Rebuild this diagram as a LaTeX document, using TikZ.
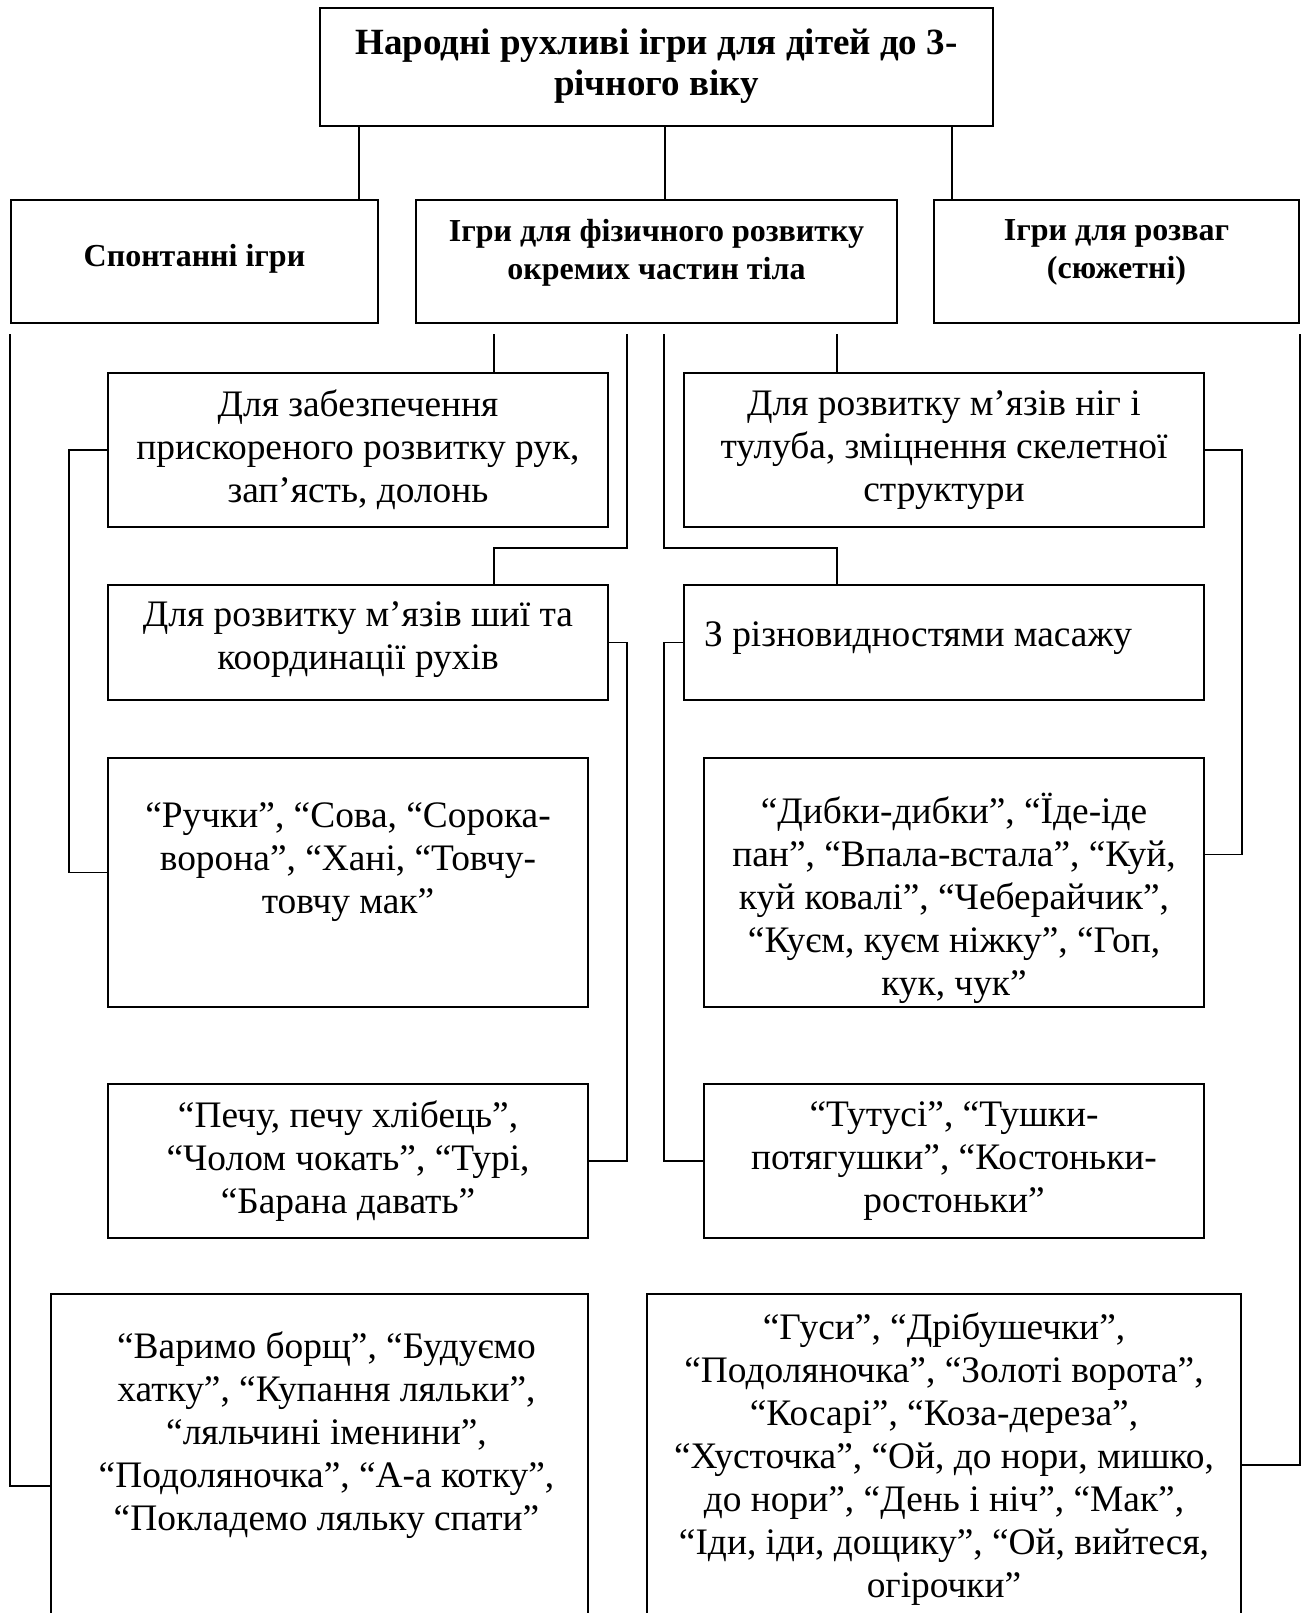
\documentclass[tikz,border=0pt]{standalone}
\usepackage{fontspec}
\setmainfont{Liberation Serif}
\tikzset{
  box/.style={
    draw,
    rectangle,
    line width=2pt,
    anchor=north west,
    inner sep=0pt
  },
  link/.style={line width=1.5pt}
}

\begin{document}
\begin{tikzpicture}[
    x=1pt, y=-1pt,
    ttl/.style={
      align=center,
      inner sep=0pt,
      font=\bfseries\fontsize{37}{41}\selectfont
    },
    head/.style={
      align=center,
      inner sep=0pt,
      font=\bfseries\fontsize{32}{38}\selectfont
    },
    txt/.style={
      align=center,
      inner sep=0pt,
      font=\fontsize{37.4}{43}\selectfont
    }
  ]
  \useasboundingbox (0,0) rectangle (1306,1613);
  % top level
  \node[box,minimum width=673pt,minimum height=118pt] (title) at (319,7) {};
  \node[ttl] (titleTxt) at ([yshift=0.5pt]title.center) {Народні рухливі ігри для дітей до 3-\\річного віку};
  \node[box,minimum width=367pt,minimum height=123pt] (spont) at (10,199) {};
  \node[head] (spontTxt) at ([yshift=3pt]spont.center) {Спонтанні ігри};
  \node[box,minimum width=481pt,minimum height=123pt] (phys) at (415,199) {};
  \node[head] (physTxt) at ([yshift=9pt]phys.center) {Ігри для фізичного розвитку\\окремих частин тіла};
  \node[box,minimum width=365pt,minimum height=123pt] (rozv) at (933,199) {};
  \node[head] (rozvTxt) at ([yshift=9pt]rozv.center) {Ігри для розваг\\(сюжетні)};
  % body parts
  \node[box,minimum width=500pt,minimum height=154pt] (hands) at (107,372) {};
  \node[txt] (handsTxt) at (hands.center) {Для забезпечення\\прискореного розвитку рук,\\зап’ясть, долонь};
  \node[box,minimum width=520pt,minimum height=154pt] (legs) at (683,372) {};
  \node[txt] (legsTxt) at (legs.center) {Для розвитку м’язів ніг і\\тулуба, зміцнення скелетної\\структури};
  \node[box,minimum width=500pt,minimum height=115pt] (neck) at (107,584) {};
  \node[txt] (neckTxt) at ([yshift=3pt]neck.center) {Для розвитку м’язів шиї та\\координації рухів};
  \node[box,minimum width=520pt,minimum height=115pt] (massage) at (683,584) {};
  \node[txt,anchor=west] (massageTxt) at ([xshift=21pt,yshift=4pt]massage.west) {З різновидностями масажу};
  % games
  \node[box,minimum width=480pt,minimum height=249pt] (handGames) at (107,757) {};
  \node[txt] (handGamesTxt) at ([yshift=20pt]handGames.center) {“Ручки”, “Сова, “Сорока-\\ворона”, “Хані, “Товчу-\\товчу мак”};
  \node[box,minimum width=500pt,minimum height=249pt] (legGames) at (703,757) {};
  \node[txt] (legGamesTxt) at ([yshift=-16pt]legGames.center) {“Дибки-дибки”, “Їде-іде\\пан”, “Впала-встала”, “Куй,\\куй ковалі”, “Чеберайчик”,\\“Куєм, куєм ніжку”, “Гоп,\\кук, чук”};
  \node[box,minimum width=480pt,minimum height=154pt] (neckGames) at (107,1083) {};
  \node[txt] (neckGamesTxt) at (neckGames.center) {“Печу, печу хлібець”,\\“Чолом чокать”, “Турі,\\“Барана давать”};
  \node[box,minimum width=500pt,minimum height=154pt] (massGames) at (703,1083) {};
  \node[txt] (massGamesTxt) at (massGames.center) {“Тутусі”, “Тушки-\\потягушки”, “Костоньки-\\ростоньки”};
  \node[box,minimum width=537pt,minimum height=340pt] (spontGames) at (50,1293) {};
  \node[txt] (spontGamesTxt) at ([xshift=7pt,yshift=-142pt]spontGames.north) {“Варимо борщ”, “Будуємо\\хатку”, “Купання ляльки”,\\“ляльчині іменини”,\\“Подоляночка”, “А-а котку”,\\“Покладемо ляльку спати”};
  \node[box,minimum width=594pt,minimum height=340pt] (rozvGames) at (646,1293) {};
  \node[txt] (rozvGamesTxt) at ([yshift=-166pt]rozvGames.north) {“Гуси”, “Дрібушечки”,\\“Подоляночка”, “Золоті ворота”,\\“Косарі”, “Коза-дереза”,\\“Хусточка”, “Ой, до нори, мишко,\\до нори”, “День і ніч”, “Мак”,\\“Іди, іди, дощику”, “Ой, вийтеся,\\огірочки”};
  % connectors
  \coordinate (t1) at ([xshift=-20pt]spont.north east);
  \coordinate (t2) at ([xshift=8.5pt]phys.north);
  \coordinate (t3) at ([xshift=19pt]rozv.north west);
  \draw[link] (t1) -- (t1 |- title.south);
  \draw[link] (t2) -- (t2 |- title.south);
  \draw[link] (t3) -- (t3 |- title.south);
  \coordinate (lvl) at ([yshift=-10pt]phys.south);
  \coordinate (sL) at ([yshift=-10pt]spont.south west);
  \coordinate (sR) at ([yshift=-10pt]rozv.south east);
  \coordinate (hTop) at ([xshift=-115pt]hands.north east);
  \coordinate (nTop) at ([xshift=-115pt]neck.north east);
  \coordinate (lTop) at ([xshift=154pt]legs.north west);
  \coordinate (mTop) at ([xshift=154pt]massage.north west);
  \coordinate (barL) at ([xshift=18pt,yshift=-20pt]hands.south east);
  \coordinate (barR) at ([xshift=-19pt,yshift=-20pt]legs.south west);
  \coordinate (sIn) at ([yshift=-193pt]spontGames.north west);
  \coordinate (rIn) at ([yshift=-172pt]rozvGames.north east);
  \draw[link] (sL) |- (sIn);
  \draw[link] (sR) |- (rIn);
  \draw[link] (hTop) -- (hTop |- lvl);
  \draw[link] (lTop) -- (lTop |- lvl);
  \draw[link] (barL |- lvl) -- (barL) -| (nTop);
  \draw[link] (barR |- lvl) -- (barR) -| (mTop);
  \draw[link] (hands.west) -- ++(-38pt,0) |- ([yshift=10pt]handGames.west);
  \draw[link] (legs.east) -- ++(37pt,0) |- ([yshift=28pt]legGames.east);
  \draw[link] (neck.east) -- ++(18pt,0) |- (neckGames.east);
  \draw[link] (massage.west) -- ++(-19pt,0) |- (massGames.west);
\end{tikzpicture}
\end{document}
